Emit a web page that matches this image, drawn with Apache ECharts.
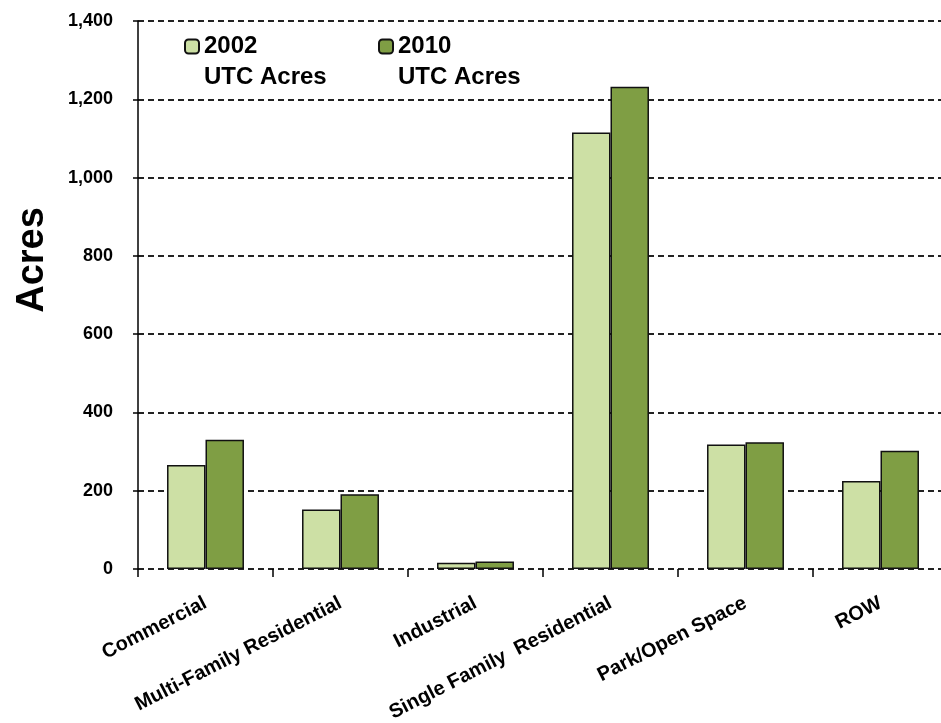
<!DOCTYPE html>
<html>
<head>
<meta charset="utf-8">
<script src="https://cdn.jsdelivr.net/npm/echarts@6/dist/echarts.min.js"></script>
<style>
  html, body { margin: 0; padding: 0; background: #fff; }
  #chart { width: 941px; height: 723px; }
</style>
</head>
<body>
<div id="chart"></div>
<script>
// Urban tree canopy acreage by land use, 2002 vs 2010
const categories = ['Commercial', 'Multi-Family Residential', 'Industrial', 'Single Family  Residential', 'Park/Open Space', 'ROW'];
const acres2002 = [266, 152, 16, 1115, 318, 225];
const acres2010 = [330, 191, 19, 1232, 324, 302];
const seriesNames = ['2002 UTC Acres', '2010 UTC Acres'];
const seriesColors = ['#cde0a5', '#7f9e44'];

const FONT = 'Liberation Sans, Arial, sans-serif';
const chart = echarts.init(document.getElementById('chart'), null, { renderer: 'canvas' });

// Two-line legend entry; a blank first line keeps the year level with the swatch
function legendFor(name, left) {
  return {
    data: [name],
    left: left,
    top: 0,
    padding: 0,
    itemWidth: 14,
    itemHeight: 14,
    selectedMode: false,
    formatter: n => '\n' + n.replace(' ', '\n'),
    textStyle: {
      fontFamily: FONT, fontWeight: 'bold', fontSize: 24, color: '#000',
      lineHeight: 31
    }
  };
}

chart.setOption({
  animation: false,
  backgroundColor: '#fff',
  grid: { left: 138, right: -7, top: 21, bottom: 154, containLabel: false, outerBoundsMode: 'none' },
  legend: [legendFor(seriesNames[0], 184), legendFor(seriesNames[1], 378)],
  graphic: [{
    type: 'text',
    x: 33, y: 260,
    rotation: Math.PI / 2,
    style: {
      text: 'Acres', fill: '#000',
      font: 'bold 38px ' + FONT,
      align: 'center', verticalAlign: 'middle'
    }
  }],
  xAxis: {
    type: 'category',
    data: categories,
    axisLine: { show: false },
    axisTick: { show: true, length: 8, lineStyle: { color: '#000', width: 1.5 } },
    axisLabel: {
      interval: 0, rotate: 27, margin: 33,
      fontFamily: FONT, fontWeight: 'bold', fontSize: 20, color: '#000'
    }
  },
  yAxis: {
    type: 'value',
    min: 0, max: 1400, interval: 200,
    axisLine: { show: true, lineStyle: { color: '#000', width: 1.5 } },
    axisTick: { show: true, inside: false, length: 5, lineStyle: { color: '#000', width: 1.5 } },
    axisLabel: {
      margin: 25,
      fontFamily: FONT, fontWeight: 'bold', fontSize: 18, color: '#000',
      formatter: v => v.toLocaleString('en-US')
    },
    splitLine: { show: true, lineStyle: { color: '#222', width: 2, type: [6, 4] } }
  },
  series: [
    {
      name: seriesNames[0], type: 'bar', data: acres2002,
      barGap: '0%', barCategoryGap: '43%',
      itemStyle: { color: seriesColors[0], borderColor: '#111', borderWidth: 1.5 }
    },
    {
      name: seriesNames[1], type: 'bar', data: acres2010,
      barGap: '0%', barCategoryGap: '43%',
      itemStyle: { color: seriesColors[1], borderColor: '#111', borderWidth: 1.5 }
    }
  ]
});
</script>
</body>
</html>
